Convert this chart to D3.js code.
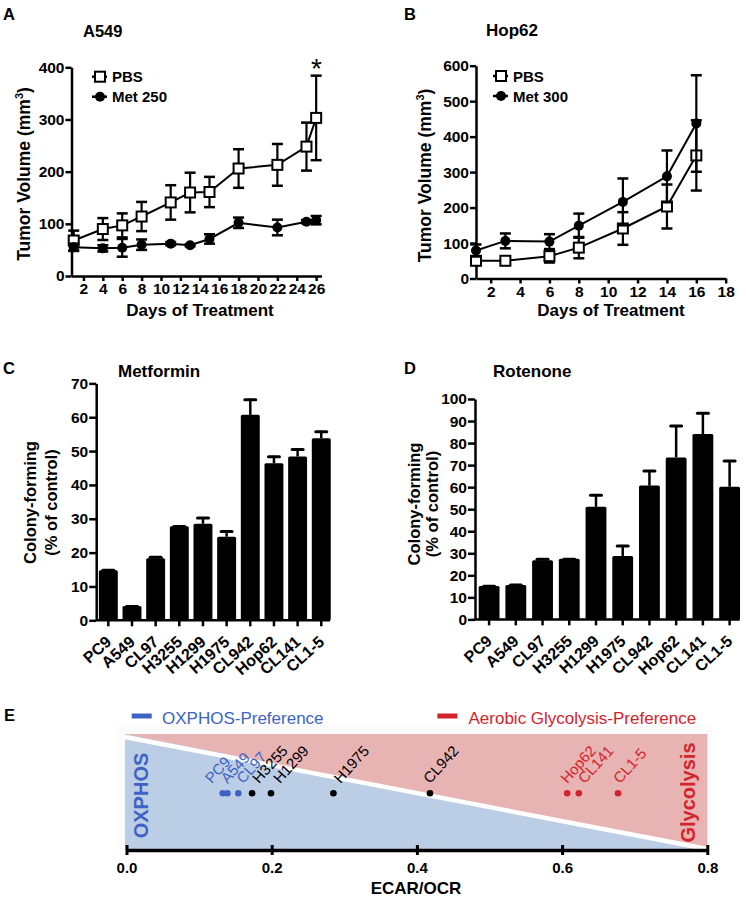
<!DOCTYPE html>
<html><head><meta charset="utf-8">
<script src="https://cdn.jsdelivr.net/npm/d3@7"></script>
<style>body{margin:0;background:#fff} svg text{font-family:"Liberation Sans",Arial,Helvetica,sans-serif}</style>
</head><body><svg id="c" width="746" height="904"></svg>
<script>
// ---------- Panel A: A549 xenograft ----------
const daysA = [1, 4, 6, 8, 11, 13, 15, 18, 22, 25, 26];
const pbsA = [68, 90, 97, 114, 141, 160, 161, 206, 213, 248, 303];
const pbsAErr = [19, 21, 23, 28, 33, 38, 29, 37, 40, 46, 81];
const metA = [55, 53, 54, 60, 62, 59, 71, 102, 93, 104, 107];
const metAErr = [7, 6, 17, 10, 3, 2, 9, 10, 15, 3, 8];
const xTicksA = [2, 4, 6, 8, 10, 12, 14, 16, 18, 20, 22, 24, 26];
const yTicksA = [0, 100, 200, 300, 400];
const legendA = ["PBS", "Met 250"];

// ---------- Panel B: Hop62 xenograft ----------
const daysB = [1, 3, 6, 8, 11, 14, 16];
const pbsB = [50, 50, 63, 87, 141, 203, 347];
const pbsBErr = [12, 5, 18, 30, 46, 62, 99];
const metB = [79, 106, 104, 149, 216, 288, 437];
const metBErr = [17, 21, 21, 34, 66, 73, 136];
const xTicksB = [2, 4, 6, 8, 10, 12, 14, 16, 18];
const yTicksB = [0, 100, 200, 300, 400, 500, 600];
const legendB = ["PBS", "Met 300"];

// ---------- Panels C / D: colony forming ----------
const cells = ["PC9", "A549", "CL97", "H3255", "H1299", "H1975", "CL942", "Hop62", "CL141", "CL1-5"];
const metformin = [14.8, 4.2, 18.3, 27.8, 28.5, 24.7, 60.7, 46.4, 48.4, 53.8];
const metforminErr = [0.3, 0.2, 0.6, 0.2, 2.0, 1.8, 4.8, 2.2, 2.4, 2.2];
const yTicksC = [0, 10, 20, 30, 40, 50, 60, 70];
const rotenone = [15.2, 15.6, 26.8, 27.5, 51.1, 28.8, 60.7, 73.5, 84.1, 60.2];
const rotenoneErr = [0.3, 0.5, 1.0, 0.3, 5.7, 5.0, 7.1, 14.7, 9.9, 12.1];
const yTicksD = [0, 10, 20, 30, 40, 50, 60, 70, 80, 90, 100];

// ---------- Panel E: ECAR/OCR ----------
const ecarCells = ["PC9", "A549", "CL97", "H3255", "H1299", "H1975", "CL942", "Hop62", "CL141", "CL1-5"];
const ecarRatio = [0.1325, 0.139, 0.154, 0.173, 0.199, 0.285, 0.418, 0.607, 0.623, 0.677];
const ecarGroup = ["ox", "ox", "ox", "mid", "mid", "mid", "mid", "gly", "gly", "gly"];
const ecarLabelNudge = [-11, 0, 5, 7, 9, 7, 0, 0, 6, 2];
const xTicksE = [0, 0.2, 0.4, 0.6, 0.8];

const BLUE = "#3d63c4", RED = "#d3242c";
const svg = d3.select("#c");

function txt(x, y, s, o = {}) {
  return svg.append("text").attr("x", x).attr("y", y).text(s)
    .attr("font-size", o.size || 16).attr("font-weight", o.weight || "bold")
    .attr("fill", o.fill || "#000").attr("text-anchor", o.anchor || "start");
}
function styleAxis(g, fs) {
  g.select(".domain").attr("stroke", "#000").attr("stroke-width", 2.5);
  g.selectAll(".tick line").attr("stroke", "#000").attr("stroke-width", 2.5);
  g.selectAll(".tick text").attr("font-size", fs).attr("font-weight", "bold").attr("fill", "#000")
    .style("font-family", '"Liberation Sans",Arial,sans-serif');
}
function yLabel(x, y, size) {
  return svg.append("text").attr("transform", `translate(${x},${y}) rotate(-90)`)
    .attr("text-anchor", "middle").attr("font-size", size).attr("font-weight", "bold");
}

// ---------- line chart helper ----------
function lineChart(p) {
  const x = d3.scaleLinear().domain(p.xDom).range(p.xRange);
  const y = d3.scaleLinear().domain(p.yDom).range(p.yRange);
  const ax = svg.append("g").attr("transform", `translate(0,${p.yRange[0]})`)
    .call(d3.axisBottom(x).tickValues(p.xTicks).tickSize(5).tickSizeOuter(0).tickPadding(2));
  styleAxis(ax, 15.5);
  const ay = svg.append("g").attr("transform", `translate(${p.xRange[0]},0)`)
    .call(d3.axisLeft(y).tickValues(p.yTicks).tickSize(6).tickSizeOuter(0).tickPadding(1));
  styleAxis(ay, 15.5);
  const series = [
    { v: p.pbs, e: p.pbsErr, type: "sq" },
    { v: p.met, e: p.metErr, type: "ci" }
  ];
  const line = d3.line().x((d, i) => x(p.days[i])).y(d => y(d));
  series.forEach(s => {
    const g = svg.append("g");
    s.v.forEach((v, i) => {
      const cx = x(p.days[i]);
      g.append("line").attr("x1", cx).attr("x2", cx).attr("y1", y(v - s.e[i])).attr("y2", y(v + s.e[i]))
        .attr("stroke", "#000").attr("stroke-width", 2.2);
      [v - s.e[i], v + s.e[i]].forEach(c => g.append("line").attr("x1", cx - 5.5).attr("x2", cx + 5.5)
        .attr("y1", y(c)).attr("y2", y(c)).attr("stroke", "#000").attr("stroke-width", 2.5));
    });
    g.append("path").attr("d", line(s.v)).attr("fill", "none").attr("stroke", "#000").attr("stroke-width", 2);
    s.v.forEach((v, i) => marker(g, s.type, x(p.days[i]), y(v)));
  });
  p.legend.forEach((name, i) => {
    const ly = p.legY + i * 20;
    svg.append("line").attr("x1", p.legX).attr("x2", p.legX + 15).attr("y1", ly).attr("y2", ly)
      .attr("stroke", "#000").attr("stroke-width", 2.5);
    marker(svg, i === 0 ? "sq" : "ci", p.legX + 8, ly);
    txt(p.legX + 20, ly + 5.5, name, { size: 15 });
  });
  return { x, y };
}
function marker(g, type, cx, cy) {
  if (type === "sq") g.append("rect").attr("x", cx - 5).attr("y", cy - 5).attr("width", 10).attr("height", 10)
    .attr("fill", "#fff").attr("stroke", "#000").attr("stroke-width", 2);
  else g.append("circle").attr("cx", cx).attr("cy", cy).attr("r", 5).attr("fill", "#000");
}

lineChart({ days: daysA, pbs: pbsA, pbsErr: pbsAErr, met: metA, metErr: metAErr,
  xDom: [0.77, 26.55], xRange: [71.5, 321.5], yDom: [0, 400], yRange: [276, 67.3],
  xTicks: xTicksA, yTicks: yTicksA, legend: legendA, legX: 92, legY: 76.7 });
lineChart({ days: daysB, pbs: pbsB, pbsErr: pbsBErr, met: metB, metErr: metBErr,
  xDom: [1, 18], xRange: [476, 725.7], yDom: [0, 600], yRange: [278.5, 65.7],
  xTicks: xTicksB, yTicks: yTicksB, legend: legendB, legX: 493, legY: 76 });

txt(316.5, 78, "*", { size: 28, weight: "normal", anchor: "middle" });
txt(3, 20, "A", { size: 16.5 });
txt(404, 19.5, "B", { size: 16.5 });
txt(83, 36.5, "A549", { size: 16.5 });
txt(486, 35.5, "Hop62", { size: 17 });
[[30, 174], [431, 175.5]].forEach(([x, y]) => {
  const t = yLabel(x, y, 17.5);
  t.append("tspan").text("Tumor Volume (mm");
  t.append("tspan").text("3").attr("font-size", 11).attr("dy", -7);
  t.append("tspan").text(")").attr("dy", 7);
});
txt(200, 316, "Days of Treatment", { size: 17, anchor: "middle" });
txt(611, 316, "Days of Treatment", { size: 17, anchor: "middle" });

// ---------- bar chart helper ----------
function barChart(p) {
  const x = d3.scaleBand().domain(cells).range(p.xRange).paddingInner(p.pad).paddingOuter(0.1);
  const y = d3.scaleLinear().domain(p.yDom).range(p.yRange);
  const ay = svg.append("g").attr("transform", `translate(${p.axisX},0)`)
    .call(d3.axisLeft(y).tickValues(p.yTicks).tickSize(7).tickSizeOuter(0).tickPadding(1));
  styleAxis(ay, 15.5);
  const g = svg.append("g");
  p.vals.forEach((v, i) => {
    const c = cells[i], bx = x(c), bw = x.bandwidth(), cx = bx + bw / 2;
    const top = y(v + p.err[i]);
    g.append("line").attr("x1", cx).attr("x2", cx).attr("y1", y(v)).attr("y2", top)
      .attr("stroke", "#000").attr("stroke-width", 2.5);
    g.append("line").attr("x1", cx - 5.5).attr("x2", cx + 5.5).attr("y1", top + 1).attr("y2", top + 1)
      .attr("stroke", "#000").attr("stroke-width", 3).attr("stroke-linecap", "round");
    g.append("rect").attr("x", bx).attr("y", y(v)).attr("width", bw).attr("height", y(0) - y(v))
      .attr("fill", "#000").attr("rx", 1.5);
  });
  const ax = svg.append("g").attr("transform", `translate(0,${p.yRange[0]})`)
    .call(d3.axisBottom(x).tickSize(6).tickSizeOuter(0));
  styleAxis(ax, 16);
  ax.selectAll(".tick text").attr("x", 0).attr("y", 0).attr("dy", 0).attr("text-anchor", "end")
    .attr("transform", `translate(4,23) rotate(-${p.rot})`);
  ax.select(".domain").attr("d", `M${p.axisX},0H${p.xRange[1] - 3}`);
  return { x, y };
}
barChart({ vals: metformin, err: metforminErr, xRange: [96.5, 333.1], axisX: 96.2, pad: 0.2,
  yDom: [0, 70], yRange: [620.3, 383.4], yTicks: yTicksC, rot: 42 });
barChart({ vals: rotenone, err: rotenoneErr, xRange: [476, 742.7], axisX: 475, pad: 0.22,
  yDom: [0, 100], yRange: [619.4, 399], yTicks: yTicksD, rot: 43 });

txt(3, 374, "C", { size: 16.5 });
txt(404, 373.5, "D", { size: 16.5 });
txt(118, 377, "Metformin", { size: 17 });
txt(493, 377, "Rotenone", { size: 17 });
[[35.5, 56.5, 502.5], [419.5, 437.5, 504]].forEach(([x1, x2, yc]) => {
  yLabel(x1, yc, 16.5).text("Colony-forming");
  yLabel(x2, yc, 16.5).text("(% of control)");
});

// ---------- Panel E ----------
const xE = d3.scaleLinear().domain([0, 0.8]).range([126.5, 707.3]);
const yTopE = 734, yBaseE = 850, yDots = 793.3;
svg.append("rect").attr("x", 117).attr("y", 725).attr("width", 595).attr("height", yBaseE - 725).attr("fill", "#fbfbfb");
svg.append("rect").attr("x", xE(0) - 1.5).attr("y", yTopE).attr("width", xE(0.8) - xE(0) + 1.5)
  .attr("height", yBaseE - yTopE).attr("fill", "#e8b3b3");
svg.append("path").attr("d", `M${xE(0) - 1.5},${yTopE}L${xE(0.8)},${yBaseE}L${xE(0) - 1.5},${yBaseE}Z`).attr("fill", "#bccee6");
svg.append("line").attr("x1", xE(0) - 1.5).attr("y1", yTopE + 3).attr("x2", xE(0.8)).attr("y2", yBaseE - 1)
  .attr("stroke", "#fff").attr("stroke-width", 4.5);

const colE = g => g === "ox" ? BLUE : g === "gly" ? RED : "#000";
ecarRatio.forEach((r, i) => {
  const cx = xE(r);
  svg.append("circle").attr("cx", cx).attr("cy", yDots).attr("r", 3.3).attr("fill", colE(ecarGroup[i]));
  svg.append("text").attr("transform", `translate(${cx + ecarLabelNudge[i]},${yDots - 9}) rotate(-48)`)
    .attr("font-size", 15).attr("fill", colE(ecarGroup[i])).text(ecarCells[i]);
});
svg.append("text").attr("transform", `translate(148,795.5) rotate(-90)`).attr("text-anchor", "middle")
  .attr("font-size", 20).attr("font-weight", "bold").attr("fill", BLUE).text("OXPHOS");
svg.append("text").attr("transform", `translate(694.5,792.5) rotate(-90)`).attr("text-anchor", "middle")
  .attr("font-size", 20).attr("font-weight", "bold").attr("fill", RED).text("Glycolysis");

const axE = svg.append("g").attr("transform", `translate(0,${yBaseE})`)
  .call(d3.axisBottom(xE).tickValues(xTicksE).tickFormat(d3.format(".1f")).tickSizeInner(5).tickSizeOuter(0).tickPadding(7));
styleAxis(axE, 15);
axE.select(".domain").attr("stroke-width", 3.5);
axE.selectAll(".tick line").attr("y1", -5).attr("y2", 5).attr("stroke-width", 3);
txt(416, 894, "ECAR/OCR", { size: 17, anchor: "middle" });
txt(4, 720.5, "E", { size: 16.5 });

svg.append("line").attr("x1", 131.7).attr("x2", 151.7).attr("y1", 716).attr("y2", 716).attr("stroke", BLUE).attr("stroke-width", 5);
txt(162, 723.5, "OXPHOS-Preference", { size: 17, weight: "normal", fill: BLUE });
svg.append("line").attr("x1", 437.3).attr("x2", 457.3).attr("y1", 716).attr("y2", 716).attr("stroke", RED).attr("stroke-width", 5);
txt(468.5, 723.5, "Aerobic Glycolysis-Preference", { size: 17, weight: "normal", fill: RED });
</script></body></html>
